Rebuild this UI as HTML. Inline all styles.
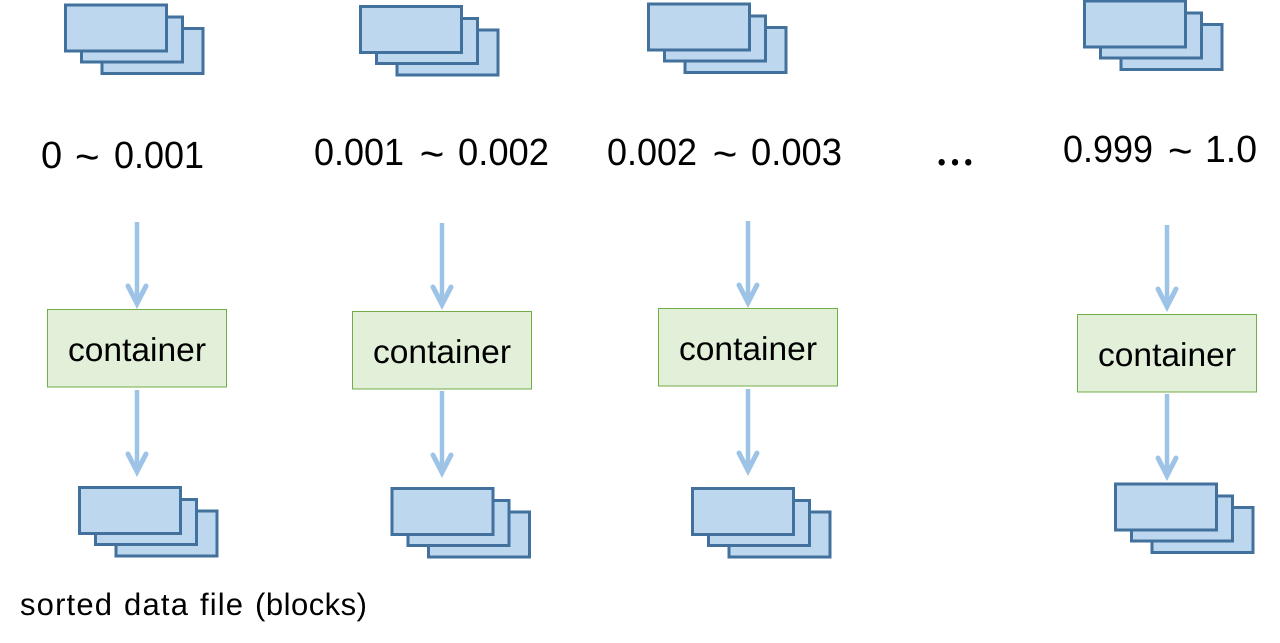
<!DOCTYPE html>
<html>
<head>
<meta charset="utf-8">
<style>
html,body{margin:0;padding:0;background:#fff;width:1280px;height:643px;overflow:hidden}
svg{display:block}
text{font-family:"Liberation Sans","Noto Sans CJK KR",sans-serif;fill:#000;text-rendering:geometricPrecision}
.r{fill:#BDD7EE;stroke:#41719C;stroke-width:3}
.c{fill:#E2EFD9;stroke:#70AD47;stroke-width:1}
.l{font-size:38px}
.t{font-size:42px}
.k{font-size:33px}
.f{font-size:31px}
.d{font-family:"Noto Sans CJK KR","Liberation Sans",sans-serif;font-size:34px;font-weight:700}
</style>
</head>
<body>
<svg width="1280" height="643" viewBox="0 0 1280 643" xmlns="http://www.w3.org/2000/svg">
<defs>
<g id="s">
<rect class="r" x="37.500" y="24" width="101" height="45"/>
<rect class="r" x="17" y="12.500" width="101" height="45"/>
<rect class="r" x="1" y="0.500" width="101" height="46"/>
</g>
<g id="ar">
<path fill="none" stroke="#9DC3E6" stroke-width="4.500" d="M0 0V82"/>
<path fill="none" stroke="#9DC3E6" stroke-width="5" stroke-linecap="round" d="M-9 64L0 81.500L9 64"/>
</g>
</defs>

<use href="#s" x="64.500" y="4.500"/>
<use href="#s" x="359.500" y="6"/>
<use href="#s" x="647.500" y="3.500"/>
<use href="#s" x="1083.500" y="0.500"/>

<text class="l" x="41" y="168">0</text>
<text class="t" x="75" y="171">~</text>
<text class="l" x="114" y="168" textLength="90" lengthAdjust="spacingAndGlyphs">0.001</text>

<text class="l" x="314" y="165" textLength="90" lengthAdjust="spacingAndGlyphs">0.001</text>
<text class="t" x="419.700" y="168">~</text>
<text class="l" x="458" y="165" textLength="91" lengthAdjust="spacingAndGlyphs">0.002</text>

<text class="l" x="607" y="165" textLength="90" lengthAdjust="spacingAndGlyphs">0.002</text>
<text class="t" x="712.700" y="168">~</text>
<text class="l" x="751" y="165" textLength="91" lengthAdjust="spacingAndGlyphs">0.003</text>

<text class="d" x="941.700 955 968.300" y="165" text-anchor="middle">...</text>

<text class="l" x="1063" y="162" textLength="90" lengthAdjust="spacingAndGlyphs">0.999</text>
<text class="t" x="1168" y="165">~</text>
<text class="l" x="1205" y="162" textLength="52" lengthAdjust="spacingAndGlyphs">1.0</text>

<use href="#ar" x="137" y="222"/>
<use href="#ar" x="442" y="223"/>
<use href="#ar" x="748" y="221"/>
<use href="#ar" x="1167" y="225"/>

<rect class="c" x="47.500" y="309.500" width="179" height="77.500"/>
<rect class="c" x="352.500" y="311.500" width="179" height="77.500"/>
<rect class="c" x="658.500" y="308.500" width="179" height="77.500"/>
<rect class="c" x="1077.500" y="314.500" width="179" height="77.500"/>

<text class="k" x="68" y="361" textLength="138" lengthAdjust="spacingAndGlyphs">container</text>
<text class="k" x="373" y="363" textLength="138" lengthAdjust="spacingAndGlyphs">container</text>
<text class="k" x="679" y="360" textLength="138" lengthAdjust="spacingAndGlyphs">container</text>
<text class="k" x="1098" y="366" textLength="138" lengthAdjust="spacingAndGlyphs">container</text>

<use href="#ar" x="137" y="390"/>
<use href="#ar" x="442" y="391"/>
<use href="#ar" x="748" y="389"/>
<use href="#ar" x="1167" y="394"/>

<use href="#s" x="78.500" y="487"/>
<use href="#s" x="391" y="488"/>
<use href="#s" x="691.500" y="488"/>
<use href="#s" x="1114.500" y="483.500"/>

<text class="f" x="20" y="615" textLength="92" lengthAdjust="spacing">sorted</text>
<text class="f" x="124" y="615" textLength="64" lengthAdjust="spacing">data</text>
<text class="f" x="200" y="615" textLength="43" lengthAdjust="spacing">file</text>
<text class="f" x="255" y="615" textLength="112" lengthAdjust="spacing">(blocks)</text>
</svg>
</body>
</html>
